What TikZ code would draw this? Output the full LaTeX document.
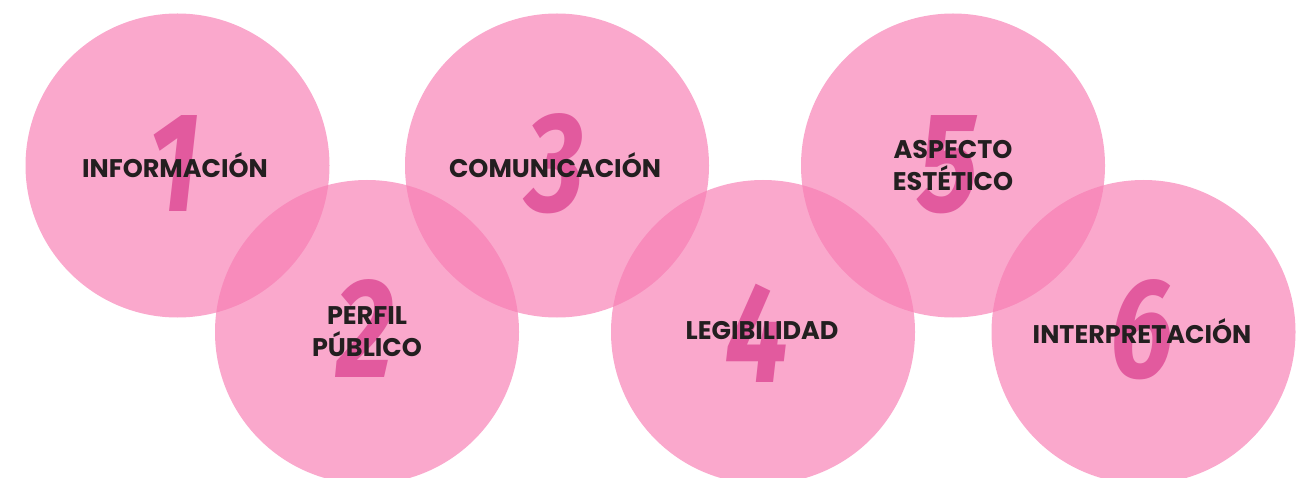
\documentclass[tikz,border=0pt]{standalone}
\usepackage{fontspec}
\setmainfont{Poppins}
\newfontfamily\digitfont{Fira Sans}
\definecolor{circfill}{RGB}{247,125,179}
\definecolor{digitcol}{RGB}{226,90,158}
\definecolor{txtcol}{RGB}{35,31,32}
\begin{document}
\begin{tikzpicture}[x=1pt,y=-1pt,
  bubble/.style={circle,fill=circfill,fill opacity=0.667,minimum size=304pt,inner sep=0pt},
  numeral/.style={text=digitcol,font=\digitfont\fontsize{142}{142}\selectfont\bfseries\itshape,xscale=0.8,inner sep=0pt},
  label/.style={text=txtcol,font=\fontsize{25.5}{32}\selectfont\bfseries,align=center,inner sep=0pt}]
\useasboundingbox (0,0) rectangle (1303,478);
\node[bubble] (c1) at (177.5,165.5) {};
\node[bubble] (c2) at (367,332) {};
\node[bubble] (c3) at (557,165.5) {};
\node[bubble] (c4) at (763,332) {};
\node[bubble] (c5) at (953,165.5) {};
\node[bubble] (c6) at (1143.5,332) {};
\node[numeral] (n1) at (174,164) {1};
\node[numeral] (n2) at (365,329) {2};
\node[numeral] (n3) at (555,164) {3};
\node[numeral] (n4) at (757,333) {4};
\node[numeral] (n5) at (948,165) {5};
\node[numeral] (n6) at (1142,330) {6};
\node[label] (t1) at (175,165) {INFORMACIÓN};
\node[label] (t2) at (367,332) {PERFIL\\PÚBLICO};
\node[label] (t3) at (555,165) {COMUNICACIÓN};
\node[label] (t4) at (762,331) {LEGIBILIDAD};
\node[label] (t5) at (953,166) {ASPECTO\\ESTÉTICO};
\node[label] (t6) at (1142,331) {INTERPRETACIÓN};
\end{tikzpicture}
\end{document}
